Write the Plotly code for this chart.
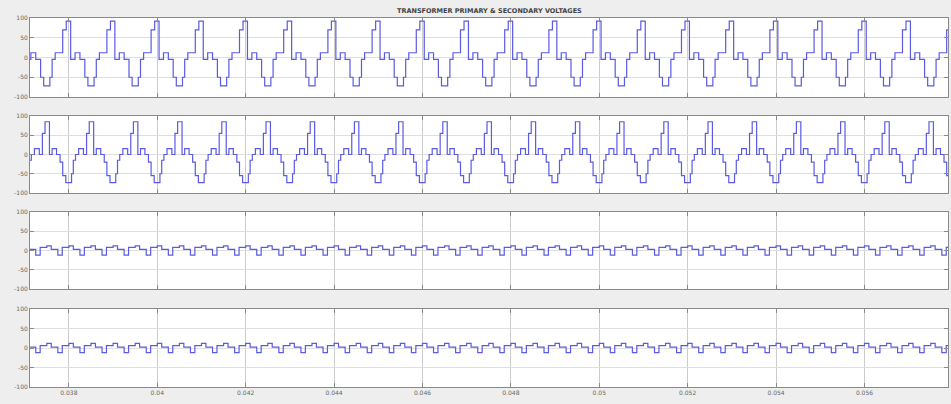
import numpy as np
import plotly.graph_objects as go
from plotly.subplots import make_subplots

# ---- data ----
period = 0.001          # one cycle (s)
t_start, t_end = 0.037, 0.058
x_ticks = [0.038, 0.040, 0.042, 0.044, 0.046, 0.048, 0.050, 0.052, 0.054, 0.056]
x_tick_labels = ["0.038", "0.04", "0.042", "0.044", "0.046", "0.048", "0.05", "0.052", "0.054", "0.056"]
y_ticks = [-100, -50, 0, 50, 100]
y_tick_labels = ["-100", "-50", "0", "50", "100"]

# one cycle of each staircase wave: phase where each level starts, level value
p1_phase = [0.00, 0.04, 0.14, 0.25, 0.36, 0.43, 0.57, 0.62, 0.69, 0.86, 0.94]
p1_level = [92, -5, 12, -5, -50, -72, -50, -5, 12, 70, 92]

p2_phase = [0.00, 0.06, 0.10, 0.15, 0.22, 0.33, 0.40, 0.46, 0.56, 0.62, 0.72, 0.80, 0.86, 0.93]
p2_level = [-73, -50, -15, 0, 15, 0, 55, 85, 0, 15, 0, -20, -55, -73]

# secondary waves: two small cycles per main cycle
s_phase = [0.00, 0.10, 0.25, 0.35, 0.50, 0.60, 0.75, 0.85]
s3_level = [12, 3, -12, 8, 12, 3, -12, 8]
s4_level = [12, 2, -12, 6, 12, 2, -12, 6]

title = "TRANSFORMER PRIMARY & SECONDARY VOLTAGES"


def build(phases, levels):
    t, v = [], []
    n0 = int(np.floor(t_start / period)) - 1
    n1 = int(np.ceil(t_end / period)) + 1
    for n in range(n0, n1):
        for ph, lv in zip(phases, levels):
            t.append((n + ph) * period)
            v.append(lv)
    return t, v


series = [build(p1_phase, p1_level), build(p2_phase, p2_level),
          build(s_phase, s3_level), build(s_phase, s4_level)]

W, H = 951, 404
L, R = 30, 3
panels_px = [(18, 97), (116, 193), (212, 289), (309, 387)]

fig = make_subplots(rows=4, cols=1, shared_xaxes=False)
line_col = "#5a5ae4"
for i, (t, v) in enumerate(series):
    fig.add_trace(go.Scatter(x=t, y=v, mode="lines", line=dict(color=line_col, width=1.2, shape="hv"),
                             showlegend=False, hoverinfo="skip"), row=i + 1, col=1)

for i, (top, bot) in enumerate(panels_px):
    ax = "" if i == 0 else str(i + 1)
    fig.layout["yaxis" + ax].update(
        domain=[1 - bot / H, 1 - top / H], range=[-100, 100], tickvals=y_ticks, ticktext=y_tick_labels,
        showgrid=True, gridcolor="#dedede", gridwidth=1, zeroline=False, automargin=False,
        showline=True, linecolor="#8a8a8a", linewidth=1, mirror="ticks",
        ticks="inside", ticklen=4, tickcolor="#8a8a8a",
        tickfont=dict(size=6, color="#666666", family="DejaVu Sans"))
    fig.layout["xaxis" + ax].update(
        range=[0.03712, 0.05789], tickvals=x_ticks, ticktext=x_tick_labels,
        showticklabels=(i == 3), automargin=False,
        showgrid=True, gridcolor="#cccccc", gridwidth=1, zeroline=False,
        showline=True, linecolor="#8a8a8a", linewidth=1, mirror="ticks",
        ticks="inside", ticklen=4, tickcolor="#8a8a8a",
        tickfont=dict(size=6, color="#666666", family="DejaVu Sans"))

fig.add_annotation(text="<b>" + title + "</b>", x=(489 - L) / (W - L - R), y=1 - 11 / H,
                   xref="paper", yref="paper", xanchor="center", yanchor="middle",
                   showarrow=False, font=dict(size=6.5, color="#444444", family="DejaVu Sans"))

fig.update_layout(width=W, height=H, margin=dict(l=L, r=R, t=0, b=0, autoexpand=False),
                  paper_bgcolor="#eeeeee", plot_bgcolor="#ffffff")
fig.write_html("out.html", config={"displayModeBar": False},
               post_script="document.body.style.margin='0';document.body.style.background='#eeeeee';")
